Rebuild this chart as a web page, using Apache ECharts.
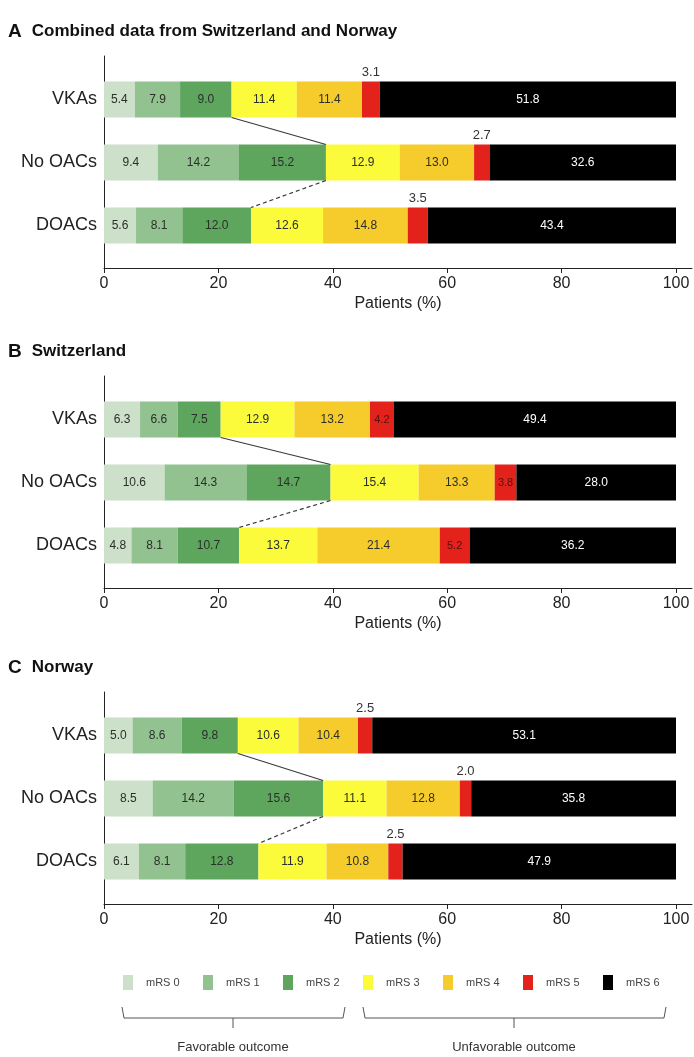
<!DOCTYPE html>
<html>
<head>
<meta charset="utf-8">
<script src="https://cdn.jsdelivr.net/npm/echarts@6/dist/echarts.min.js"></script>
<style>
  html, body { margin: 0; padding: 0; background: #fff; }
  #chart { width: 694px; height: 1057px; }
</style>
</head>
<body>
<div id="chart"></div>
<script>
// ---------- data ----------
const categories = ['VKAs', 'No OACs', 'DOACs'];
const mrsNames = ['mRS 0', 'mRS 1', 'mRS 2', 'mRS 3', 'mRS 4', 'mRS 5', 'mRS 6'];
const xTicks = [0, 20, 40, 60, 80, 100];

const combinedVKAs   = [5.4, 7.9, 9.0, 11.4, 11.4, 3.1, 51.8];
const combinedNoOACs = [9.4, 14.2, 15.2, 12.9, 13.0, 2.7, 32.6];
const combinedDOACs  = [5.6, 8.1, 12.0, 12.6, 14.8, 3.5, 43.4];

const swissVKAs   = [6.3, 6.6, 7.5, 12.9, 13.2, 4.2, 49.4];
const swissNoOACs = [10.6, 14.3, 14.7, 15.4, 13.3, 3.8, 28.0];
const swissDOACs  = [4.8, 8.1, 10.7, 13.7, 21.4, 5.2, 36.2];

const norwayVKAs   = [5.0, 8.6, 9.8, 10.6, 10.4, 2.5, 53.1];
const norwayNoOACs = [8.5, 14.2, 15.6, 11.1, 12.8, 2.0, 35.8];
const norwayDOACs  = [6.1, 8.1, 12.8, 11.9, 10.8, 2.5, 47.9];

const panelLetters = ['A', 'B', 'C'];
const panelTitles = ['Combined data from Switzerland and Norway', 'Switzerland', 'Norway'];
const outcomeGroups = ['Favorable outcome', 'Unfavorable outcome'];

// ---------- styling / layout ----------
const FONT = '"Liberation Sans", Arial, Helvetica, sans-serif';
const colors = ['#cde0ca', '#93c291', '#5ea65d', '#fbfb3c', '#f6cb2c', '#e3231b', '#000000'];
const panelRows = [
  [combinedVKAs, combinedNoOACs, combinedDOACs],
  [swissVKAs, swissNoOACs, swissDOACs],
  [norwayVKAs, norwayNoOACs, norwayDOACs]
];
const mrs5OnTop = [true, false, true];
const axisTops = [56, 376, 692];
const titleTops = [17, 337, 653];
const BAR_H = 36;

const grids = [], xAxes = [], yAxes = [], series = [], titles = [];

panelRows.forEach((rows, p) => {
  const top = axisTops[p];
  // axes grid (index 2p) and bars grid (index 2p+1)
  grids.push({ left: 104, top: top, width: 588, height: 212 });
  grids.push({ left: 104, top: top + 12, width: 572, height: 189 });

  xAxes.push({
    gridIndex: 2 * p, type: 'value', min: 0, max: 102.8,
    splitLine: { show: false },
    axisLine: { lineStyle: { color: '#222', width: 1 } },
    axisTick: { customValues: xTicks, length: 5, lineStyle: { color: '#222' } },
    axisLabel: { customValues: xTicks, fontSize: 16, color: '#222', margin: 8, fontFamily: FONT },
    name: 'Patients (%)', nameLocation: 'middle', nameGap: 28,
    nameTextStyle: { fontSize: 16, color: '#222', fontFamily: FONT }
  });
  xAxes.push({ gridIndex: 2 * p + 1, type: 'value', min: 0, max: 100, show: false });

  yAxes.push({
    gridIndex: 2 * p, type: 'value', min: 0, max: 1,
    axisLine: { show: true, lineStyle: { color: '#222', width: 1 } },
    axisTick: { show: false }, axisLabel: { show: false }, splitLine: { show: false }
  });
  yAxes.push({
    gridIndex: 2 * p + 1, type: 'category', data: categories, inverse: true,
    axisLine: { show: false }, axisTick: { show: false },
    axisLabel: { fontSize: 18, color: '#222', margin: 7, fontFamily: FONT }
  });

  mrsNames.forEach((name, k) => {
    let label = {
      show: true, position: 'inside', fontSize: 12, fontFamily: FONT,
      color: k === 6 ? '#ffffff' : '#2a2f2a',
      formatter: (d) => d.value.toFixed(1)
    };
    if (k === 5) {
      if (mrs5OnTop[p]) {
        label = Object.assign(label, { position: 'top', distance: 3, color: '#333', fontSize: 13 });
      } else {
        label = Object.assign(label, { color: '#5a0e0a', fontSize: 11 });
      }
    }
    series.push({
      name: name, type: 'bar', stack: 'panel' + p,
      xAxisIndex: 2 * p + 1, yAxisIndex: 2 * p + 1,
      barWidth: BAR_H, silent: true,
      itemStyle: { color: colors[k] },
      label: label,
      data: rows.map(r => r[k])
    });
  });

  // connector lines at the favourable/unfavourable boundary (after mRS 2)
  const fav = rows.map(r => r[0] + r[1] + r[2]);
  series.push({
    type: 'custom', xAxisIndex: 2 * p + 1, yAxisIndex: 2 * p + 1, silent: true, z: 5,
    clip: false,
    data: [[fav[0], 0, fav[1], 1, 0], [fav[1], 1, fav[2], 2, 1]],
    renderItem: (params, api) => {
      const a = api.coord([api.value(0), api.value(1)]);
      const b = api.coord([api.value(2), api.value(3)]);
      return {
        type: 'line',
        shape: { x1: a[0], y1: a[1] + BAR_H / 2, x2: b[0], y2: b[1] - BAR_H / 2 },
        style: { stroke: '#3a3a3a', lineWidth: 1.2, lineDash: api.value(4) ? [4, 3] : null }
      };
    }
  });

  titles.push({
    left: 3, top: titleTops[p],
    text: '{l|' + panelLetters[p] + '}  {t|' + panelTitles[p] + '}',
    textStyle: {
      rich: {
        l: { fontSize: 19, fontWeight: 'bold', color: '#111', fontFamily: FONT },
        t: { fontSize: 17, fontWeight: 'bold', color: '#111', fontFamily: FONT }
      }
    }
  });
});

// legends, one per item so the spacing matches
const legends = mrsNames.map((name, i) => ({
  data: [name], left: 123 + 80 * i, top: 975, padding: 0,
  itemWidth: 10, itemHeight: 15, icon: 'rect', selectedMode: false,
  textStyle: { fontSize: 11, color: '#444', fontFamily: FONT, padding: [0, 0, 0, 8] }
}));

const bracketStyle = { stroke: '#555', lineWidth: 1, fill: null };
const graphics = [
  { type: 'polyline', shape: { points: [[122, 1007], [124, 1018], [343, 1018], [345, 1007]] }, style: bracketStyle },
  { type: 'line', shape: { x1: 233, y1: 1018, x2: 233, y2: 1028 }, style: bracketStyle },
  { type: 'polyline', shape: { points: [[363, 1007], [365, 1018], [664, 1018], [666, 1007]] }, style: bracketStyle },
  { type: 'line', shape: { x1: 514, y1: 1018, x2: 514, y2: 1028 }, style: bracketStyle },
  { type: 'text', x: 233, y: 1047, style: { text: outcomeGroups[0], fontSize: 13, fill: '#333', fontFamily: FONT, align: 'center', verticalAlign: 'middle' } },
  { type: 'text', x: 514, y: 1047, style: { text: outcomeGroups[1], fontSize: 13, fill: '#333', fontFamily: FONT, align: 'center', verticalAlign: 'middle' } }
];

const chart = echarts.init(document.getElementById('chart'), null, { renderer: 'canvas' });
chart.setOption({
  animation: false,
  backgroundColor: '#ffffff',
  title: titles,
  grid: grids,
  xAxis: xAxes,
  yAxis: yAxes,
  legend: legends,
  series: series,
  graphic: graphics
});
</script>
</body>
</html>
